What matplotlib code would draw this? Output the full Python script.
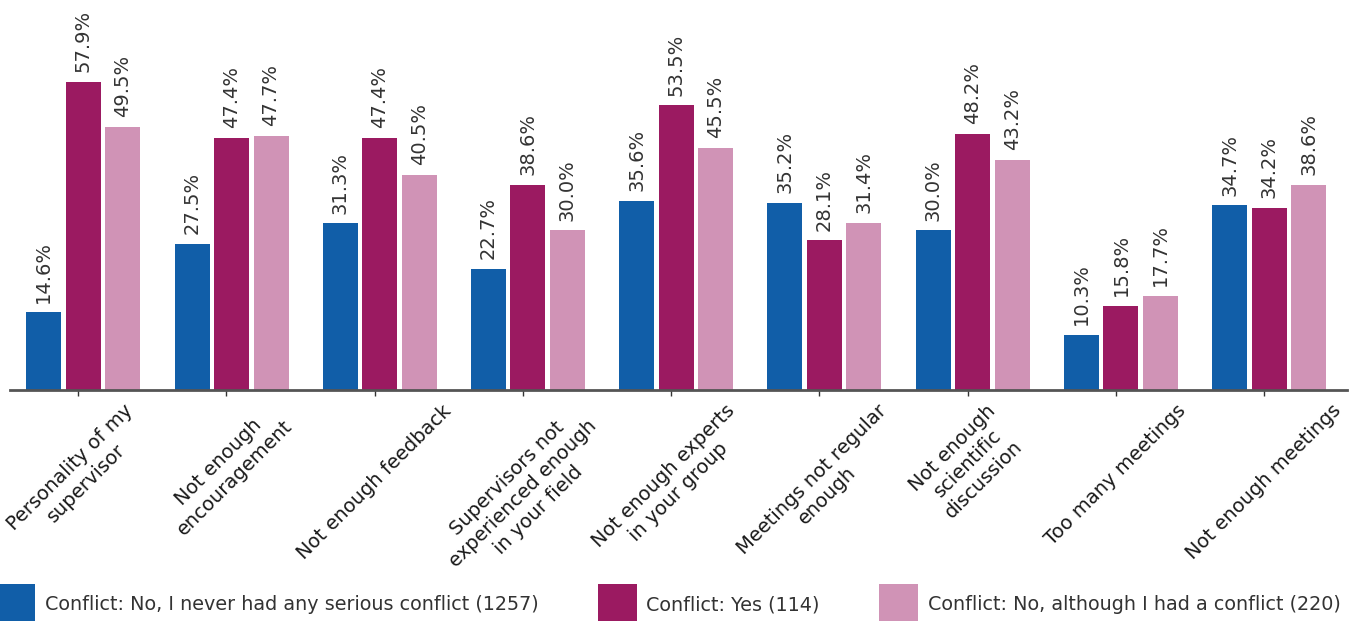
import numpy as np
import matplotlib
matplotlib.use("Agg")
import matplotlib.pyplot as plt

plt.rcParams["font.family"] = ["DejaVu Sans"]

categories = [
    "Personality of my\nsupervisor",
    "Not enough\nencouragement",
    "Not enough feedback",
    "Supervisors not\nexperienced enough\nin your field",
    "Not enough experts\nin your group",
    "Meetings not regular\nenough",
    "Not enough\nscientific\ndiscussion",
    "Too many meetings",
    "Not enough meetings",
]
no_conflict = [14.6, 27.5, 31.3, 22.7, 35.6, 35.2, 30.0, 10.3, 34.7]
yes_conflict = [57.9, 47.4, 47.4, 38.6, 53.5, 28.1, 48.2, 15.8, 34.2]
no_although = [49.5, 47.7, 40.5, 30.0, 45.5, 31.4, 43.2, 17.7, 38.6]
series_names = [
    "Conflict: No, I never had any serious conflict (1257)",
    "Conflict: Yes (114)",
    "Conflict: No, although I had a conflict (220)",
]
colors = ["#115EA8", "#9B1A61", "#D093B6"]

fig = plt.figure(figsize=(13.58, 6.21), dpi=100)
ax = fig.add_axes([0.0074, 0.372, 0.9846, 0.628])

x = np.arange(len(categories))
step = 0.2665
width = 0.236
shift = 0.034

handles = []
for k, (vals, name, col) in enumerate(zip([no_conflict, yes_conflict, no_although], series_names, colors)):
    pos = x + (k - 1) * step + shift
    bars = ax.bar(pos, vals, width=width, color=col, label=name)
    handles.append(bars)
    for p, v in zip(pos, vals):
        ax.annotate(f"{v:.1f}%", (p, v), xytext=(0, 7), textcoords="offset points",
                    rotation=90, ha="center", va="bottom", fontsize=14, color="#333333")

ax.set_xlim(-0.46, len(categories) - 1 + 0.56)
ax.set_ylim(0, 73.3)
ax.set_yticks([])
ax.set_xticks(x)
ax.set_xticklabels(categories, rotation=45, ha="center", fontsize=14, color="#1a1a1a")
ax.tick_params(axis="x", length=4, width=1, color="#333333", pad=4)
for s in ["top", "right", "left"]:
    ax.spines[s].set_visible(False)
ax.spines["bottom"].set_color("#555555")
ax.spines["bottom"].set_linewidth(2)

# legend squares run off the bottom edge like in the original
fig.legend(handles=handles, loc="lower left", bbox_to_anchor=(-0.0029, -0.006), ncol=3,
           frameon=False, fontsize=13.8, handlelength=2.03, handleheight=2.89,
           handletextpad=0.5, columnspacing=3.1, borderpad=0, borderaxespad=0,
           labelcolor="#333333")

fig.savefig("out.png", dpi=100)
